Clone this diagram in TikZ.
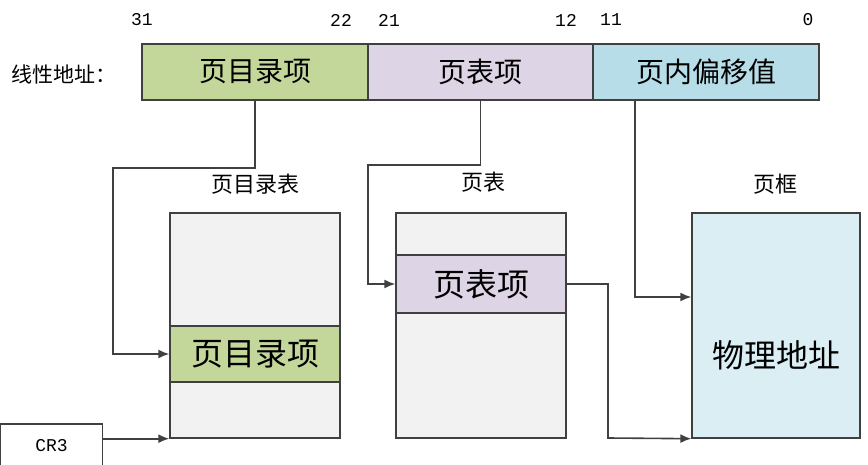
\documentclass[tikz,border=0pt]{standalone}
\usepackage{fontspec}
\newfontfamily\cjk{Noto Sans CJK SC}
\newfontfamily\mono{Liberation Mono}
\usetikzlibrary{arrows.meta}
\definecolor{bargreen}{HTML}{C4D79B}
\definecolor{barpurple}{HTML}{DDD5E6}
\definecolor{barblue}{HTML}{B7DDE8}
\definecolor{frameblue}{HTML}{DAEEF3}
\definecolor{tablegray}{HTML}{F2F2F2}
\definecolor{linegray}{HTML}{404040}
\tikzset{
  box/.style={draw=linegray, line width=1.4pt, inner sep=0pt, anchor=center},
  bitnum/.style={font=\mono\fontsize{18}{20}\selectfont, inner sep=0pt},
  barlabel/.style={font=\cjk\fontsize{28}{30}\selectfont},
  entrylabel/.style={font=\cjk\fontsize{32}{34}\selectfont},
  tbllabel/.style={font=\cjk\fontsize{22}{24}\selectfont, inner sep=0pt},
  conn/.style={draw=linegray, line width=1.6pt},
  arr/.style={conn, -{Latex[length=11pt,width=9pt]}}
}
\begin{document}
\begin{tikzpicture}[x=1pt,y=-1pt]
\useasboundingbox (0,0) rectangle (868,465);
\clip (0,0) rectangle (868,465);
% linear address bar
\node[box, fill=bargreen, minimum width=226pt, minimum height=56pt, barlabel] (dirbar) at (255,72) {页目录项};
\node[box, fill=barpurple, minimum width=225pt, minimum height=56pt, barlabel] (ptbar) at (480.5,72) {页表项};
\node[box, fill=barblue, minimum width=226pt, minimum height=56pt, barlabel] (offbar) at (706,72) {页内偏移值};
\node[font=\cjk\fontsize{21}{24}\selectfont, anchor=west, inner sep=0pt] (lin) at (11,74) {线性地址：};
% bit numbers
\node[bitnum] (b31) at (142,20) {31};
\node[bitnum] (b22) at (341,20) {22};
\node[bitnum] (b21) at (389,20) {21};
\node[bitnum] (b12) at (566,20) {12};
\node[bitnum] (b11) at (611,20) {11};
\node[bitnum] (b0) at (808,20) {0};
% page directory table
\node[box, fill=tablegray, minimum width=170pt, minimum height=225pt] (pdtable) at (255,325.5) {};
\node[box, fill=bargreen, minimum width=170pt, minimum height=56pt, entrylabel] (pdentry) at (255,354) {页目录项};
\node[tbllabel] (pdlabel) at (255,184) {页目录表};
% page table
\node[box, fill=tablegray, minimum width=170pt, minimum height=225pt] (pttable) at (481,325.5) {};
\node[box, fill=barpurple, minimum width=170pt, minimum height=58pt, entrylabel] (ptentry) at (481,284) {页表项};
\node[tbllabel] (ptlabel) at (483,182) {页表};
% page frame
\node[box, fill=frameblue, minimum width=168pt, minimum height=225pt] (frame) at (776,325.5) {};
\node[entrylabel, inner sep=0pt] (phys) at (776,355) {物理地址};
\node[tbllabel] (frlabel) at (775,184) {页框};
% CR3
\node[box, fill=white, minimum width=102pt, minimum height=46pt, font=\mono\fontsize{18}{20}\selectfont, text depth=0pt] (cr3) at (51.5,447) {\raisebox{3pt}{CR3}};
% connectors
\coordinate (c1) at (113,168);
\draw[arr] (dirbar.south) |- (c1) |- (pdentry.west);
\coordinate (c2) at (368,165);
\draw[arr] (ptbar.south) |- (c2) |- (ptentry.west);
\coordinate (c3) at (635,297);
\draw[arr] (c3 |- offbar.south) -- (c3) -- (c3 -| frame.west);
\coordinate (c4) at (608,438);
\draw[arr] (ptentry.east) -| (c4) -- (frame.south west);
\draw[arr] (cr3.east |- pdtable.south west) -- (pdtable.south west);
\end{tikzpicture}
\end{document}
